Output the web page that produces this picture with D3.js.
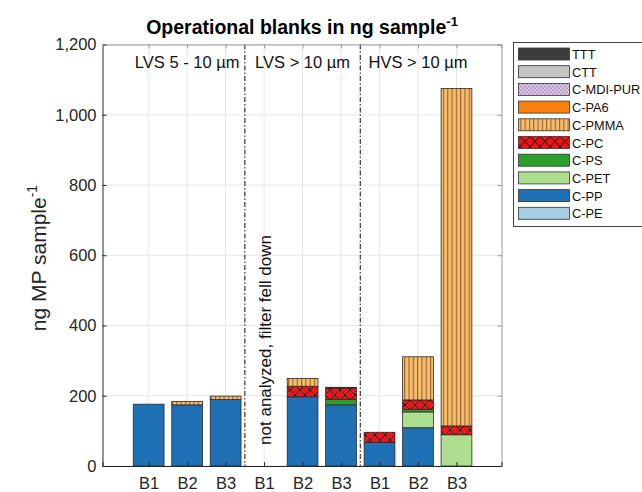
<!DOCTYPE html>
<html>
<head>
<meta charset="utf-8">
<script src="https://cdn.jsdelivr.net/npm/d3@7"></script>
<style>
  html, body { margin: 0; padding: 0; background: #fff; }
  svg { display: block; font-family: "Liberation Sans", Arial, sans-serif; }
</style>
</head>
<body>
<svg id="chart" width="642" height="492"></svg>
<script>
// Sample labels along the x axis (three groups of three blanks)
const categories = ["B1", "B2", "B3", "B1", "B2", "B3", "B1", "B2", "B3"];

// Polymer series in stacking order (bottom to top), ng per sample
const seriesNames = ["C-PE", "C-PP", "C-PET", "C-PS", "C-PC", "C-PMMA", "C-PA6", "C-MDI-PUR", "CTT", "TTT"];
const valPE     = [0,   0,   0,   0, 0,   0,   0,  0,   0];
const valPP     = [176, 174, 189, 0, 197, 174, 67, 109, 0];
const valPET    = [0,   0,   0,   0, 0,   0,   0,  45,  89];
const valPS     = [0,   0,   0,   0, 0,   16,  0,  7,   0];
const valPC     = [0,   0,   0,   0, 30,  32,  29, 27,  25];
const valPMMA   = [0,   10,  10,  0, 22,  2,   0,  123, 961];
const valPA6    = [0,   0,   0,   0, 0,   0,   0,  0,   0];
const valMDIPUR = [0,   0,   0,   0, 0,   0,   0,  0,   0];
const valCTT    = [0,   0,   0,   0, 0,   0,   0,  0,   0];
const valTTT    = [0,   0,   0,   0, 0,   0,   0,  0,   0];
const seriesValues = [valPE, valPP, valPET, valPS, valPC, valPMMA, valPA6, valMDIPUR, valCTT, valTTT];

const yTicks = [0, 200, 400, 600, 800, 1000, 1200];
const groupLabels = ["LVS 5 - 10 µm", "LVS > 10 µm", "HVS > 10 µm"];
const groupCenters = [2, 5, 8];
const groupDividers = [3.5, 6.5];
const noteText = "not analyzed, filter fell down";

const fills = {
  "C-PE": "#a6cee3",
  "C-PP": "#1f70b5",
  "C-PET": "#addf8f",
  "C-PS": "#2ca02c",
  "C-PC": "url(#patPC)",
  "C-PMMA": "url(#patPMMA)",
  "C-PA6": "#ff7f0e",
  "C-MDI-PUR": "url(#patPUR)",
  "CTT": "#c4c4c4",
  "TTT": "#3c3c3c"
};

const svg = d3.select("#chart");
const plot = { left: 102.5, right: 501.5, top: 44.5, bottom: 466 };

const x = d3.scaleLinear().domain([-0.2, 10.17]).range([plot.left, plot.right]);
const y = d3.scaleLinear().domain([0, 1200]).range([plot.bottom, plot.top]);
const barW = x(0.8) - x(0);

// Fill patterns
const defs = svg.append("defs");
const pc = defs.append("pattern").attr("id", "patPC").attr("patternUnits", "userSpaceOnUse")
  .attr("width", 10).attr("height", 10);
pc.append("rect").attr("width", 10).attr("height", 10).attr("fill", "#f01414");
pc.append("path").attr("d", "M0,0L10,10M10,0L0,10").attr("stroke", "#111").attr("stroke-width", 1);

const pm = defs.append("pattern").attr("id", "patPMMA").attr("patternUnits", "userSpaceOnUse")
  .attr("width", 4.3).attr("height", 4);
pm.append("rect").attr("width", 4.3).attr("height", 4).attr("fill", "#f5bd6e");
pm.append("rect").attr("x", 0).attr("width", 1.1).attr("height", 4).attr("fill", "#9a6228");

const pu = defs.append("pattern").attr("id", "patPUR").attr("patternUnits", "userSpaceOnUse")
  .attr("width", 4).attr("height", 4);
pu.append("rect").attr("width", 4).attr("height", 4).attr("fill", "#b89ac8");
pu.append("circle").attr("cx", 1).attr("cy", 1).attr("r", 0.9).attr("fill", "#efe6f4");
pu.append("circle").attr("cx", 3).attr("cy", 3).attr("r", 0.9).attr("fill", "#efe6f4");

// Grid
const positions = categories.map((_, i) => i + 1);
svg.append("g").selectAll("line.gx").data(positions).join("line")
  .attr("x1", d => x(d)).attr("x2", d => x(d))
  .attr("y1", plot.top).attr("y2", plot.bottom)
  .attr("stroke", "#e6e6e6").attr("stroke-width", 1);
svg.append("g").selectAll("line.gy").data(yTicks).join("line")
  .attr("x1", plot.left).attr("x2", plot.right)
  .attr("y1", d => y(d)).attr("y2", d => y(d))
  .attr("stroke", "#e6e6e6").attr("stroke-width", 1);

// Stacked bars
const rows = categories.map((c, i) => {
  const r = { idx: i + 1 };
  seriesNames.forEach((s, k) => { r[s] = seriesValues[k][i]; });
  return r;
});
const stacked = d3.stack().keys(seriesNames)(rows);
const gBars = svg.append("g");
stacked.forEach(layer => {
  gBars.append("g").selectAll("rect")
    .data(layer.filter(d => d[1] - d[0] > 0))
    .join("rect")
    .attr("x", d => x(d.data.idx) - barW / 2)
    .attr("width", barW)
    .attr("y", d => y(d[1]))
    .attr("height", d => y(d[0]) - y(d[1]))
    .attr("fill", fills[layer.key])
    .attr("stroke", "#2a2a2a")
    .attr("stroke-width", 0.8);
});

// Group dividers
svg.append("g").selectAll("line").data(groupDividers).join("line")
  .attr("x1", d => x(d)).attr("x2", d => x(d))
  .attr("y1", plot.top).attr("y2", plot.bottom)
  .attr("stroke", "#333").attr("stroke-width", 1.2)
  .attr("stroke-dasharray", "5,2,1.5,2");

// Group labels
svg.append("g").selectAll("text").data(groupLabels).join("text")
  .attr("x", (d, i) => x(groupCenters[i]))
  .attr("y", 68)
  .attr("text-anchor", "middle")
  .attr("font-size", 16.5)
  .attr("fill", "#111")
  .text(d => d);

// Note for the missing sample
svg.append("text")
  .attr("transform", `translate(${x(4) + 6.5},${340}) rotate(-90)`)
  .attr("text-anchor", "middle")
  .attr("font-size", 17)
  .attr("fill", "#111")
  .text(noteText);

// Axes (box with inward ticks)
const axisColor = "#262626";
const yAxisL = d3.axisLeft(y).tickValues(yTicks).tickSize(-4).tickPadding(6).tickFormat(d3.format(","));
const gy = svg.append("g").attr("transform", `translate(${plot.left},0)`).call(yAxisL);
gy.select(".domain").attr("stroke", axisColor);
gy.selectAll(".tick line").attr("stroke", axisColor);
gy.selectAll("text").attr("font-size", 16.5).attr("fill", axisColor).attr("font-family", "Liberation Sans, Arial, sans-serif");

const yAxisR = d3.axisRight(y).tickValues(yTicks).tickSize(-4).tickFormat("");
const gyr = svg.append("g").attr("transform", `translate(${plot.right},0)`).call(yAxisR);
gyr.select(".domain").attr("stroke", "#999");
gyr.selectAll(".tick line").attr("stroke", "#999");

const xAxisB = d3.axisBottom(x).tickValues(positions).tickSize(-4).tickPadding(11)
  .tickFormat((d, i) => categories[i]);
const gx = svg.append("g").attr("transform", `translate(0,${plot.bottom})`).call(xAxisB);
gx.select(".domain").attr("stroke", axisColor);
gx.selectAll(".tick line").attr("stroke", axisColor);
gx.selectAll("text").attr("font-size", 16.5).attr("fill", axisColor).attr("font-family", "Liberation Sans, Arial, sans-serif");

const xAxisT = d3.axisTop(x).tickValues(positions).tickSize(-4).tickFormat("");
const gxt = svg.append("g").attr("transform", `translate(0,${plot.top})`).call(xAxisT);
gxt.select(".domain").attr("stroke", "#999");
gxt.selectAll(".tick line").attr("stroke", "#999");

// Y axis label
const yl = svg.append("text")
  .attr("transform", `translate(46,${258}) rotate(-90)`)
  .attr("text-anchor", "middle")
  .attr("font-size", 21)
  .attr("fill", axisColor);
yl.append("tspan").text("ng MP sample");
yl.append("tspan").attr("font-size", 14).attr("dy", -9).text("-1");

// Title
const tt = svg.append("text")
  .attr("x", (plot.left + plot.right) / 2)
  .attr("y", 34)
  .attr("text-anchor", "middle")
  .attr("font-size", 19.5)
  .attr("font-weight", "bold")
  .attr("fill", "#000");
tt.append("tspan").text("Operational blanks in ng sample");
tt.append("tspan").attr("font-size", 13).attr("dy", -8).text("-1");

// Legend (top entry = last stacked series)
const legendOrder = seriesNames.slice().reverse();
const lg = svg.append("g");
lg.append("rect").attr("x", 513.5).attr("y", 42.5).attr("width", 140).attr("height", 184)
  .attr("fill", "#fff").attr("stroke", "#444").attr("stroke-width", 1);
const li = lg.selectAll("g.item").data(legendOrder).join("g")
  .attr("transform", (d, i) => `translate(0,${48 + i * 17.7})`);
li.append("rect").attr("x", 518.5).attr("y", 0).attr("width", 51).attr("height", 12)
  .attr("fill", d => fills[d]).attr("stroke", "#333").attr("stroke-width", 0.8);
li.append("text").attr("x", 572).attr("y", 11).attr("font-size", 12.8).attr("fill", "#111")
  .text(d => d);
</script>
</body>
</html>
